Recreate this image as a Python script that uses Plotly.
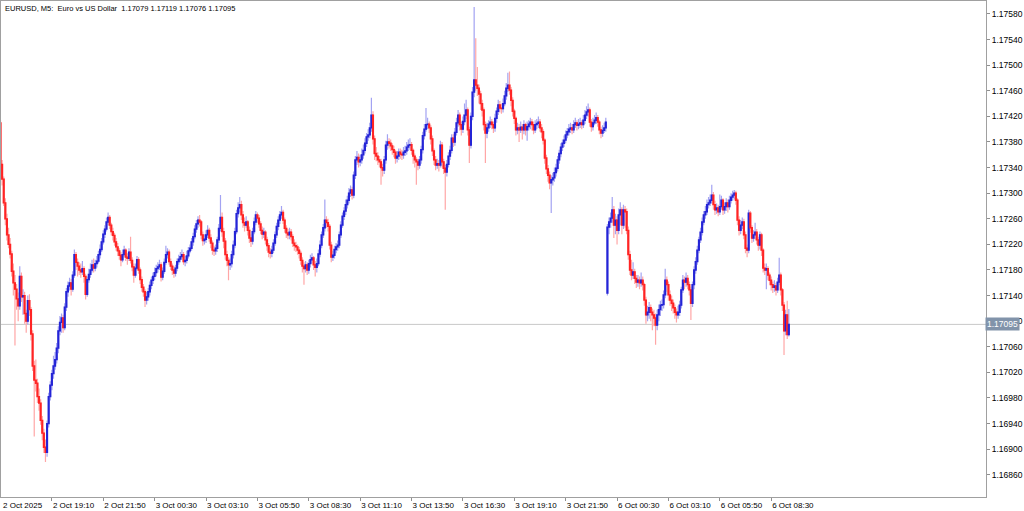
import plotly.graph_objects as go

# Prices are stored as offsets in 0.00001 units from BASE
BASE = 1.17000
UNIT = 0.00001

open_pts = [
    410,345,322,285,260,235,220,205,178,160,
    150,135,124,170,138,140,112,100,132,118,
    80,30,8,3,-18,-28,-55,-75,-97,-105,
    -60,-18,0,18,30,40,58,85,98,105,
    90,122,146,155,160,150,172,204,192,186,
    180,177,182,170,142,165,173,180,188,183,
    190,194,204,212,224,236,244,255,262,250,
    240,234,224,216,210,203,196,204,211,200,
    198,208,195,185,172,183,196,180,165,153,
    146,133,138,146,156,164,170,176,182,185,
    188,169,178,192,204,208,193,186,180,175,
    183,193,197,201,204,193,195,202,210,214,
    224,232,244,252,258,255,235,226,228,235,
    242,230,222,211,210,214,227,245,262,240,
    225,204,195,188,190,204,219,240,268,277,
    282,266,254,250,255,242,230,225,240,255,
    266,261,252,242,236,239,227,218,208,206,
    211,222,235,248,258,266,270,258,245,238,
    235,239,232,222,218,216,211,206,195,186,
    182,188,180,190,196,199,188,184,190,205,
    219,235,246,258,254,248,219,200,203,212,
    216,219,235,250,264,272,282,289,300,305,
    297,328,352,356,349,352,360,367,378,388,
    391,402,422,385,362,358,352,349,340,336,
    352,375,380,378,374,368,364,355,358,364,
    361,360,364,366,372,375,376,367,358,352,
    349,344,352,368,390,400,407,408,402,385,
    366,352,344,346,344,375,349,339,333,345,
    358,367,386,380,395,410,422,407,400,412,
    422,430,399,375,420,458,477,469,464,455,
    440,430,407,394,402,408,411,407,402,417,
    428,438,433,432,440,452,464,469,461,445,
    428,417,399,402,399,403,399,407,399,404,
    408,411,407,399,407,409,411,402,396,383,
    355,338,328,316,321,324,332,339,352,362,
    372,378,383,391,396,400,402,399,407,410,
    406,408,410,407,414,422,427,430,411,404,
    410,414,418,411,399,394,398,402,144,247,
    255,261,274,250,258,242,266,274,250,274,
    271,242,204,180,172,177,167,161,164,160,
    164,157,133,110,114,121,114,110,105,94,
    110,118,125,126,141,164,157,141,133,128,
    121,114,110,114,125,149,164,161,167,157,
    149,128,157,180,193,211,227,239,255,266,
    271,282,285,289,297,282,274,277,271,279,
    289,274,279,285,279,289,294,297,300,289,
    258,242,250,255,235,214,211,269,246,230,
    235,239,227,219,235,211,183,180,182,172,
    164,157,153,155,149,161,172,149,125,85,
    110,79,
]

high_pts = [
    414,352,326,292,268,246,230,210,190,172,
    158,145,186,176,150,146,118,140,142,122,
    86,38,40,10,-5,-22,-48,-68,-85,-55,
    -12,6,24,46,52,66,92,108,112,110,
    128,152,162,168,166,178,212,208,198,192,
    190,194,186,174,170,182,190,196,198,196,
    202,210,220,230,242,250,262,270,266,254,
    246,238,230,222,214,208,212,218,214,206,
    214,232,200,190,190,202,200,184,170,158,
    150,146,152,162,170,176,184,188,192,196,
    192,184,198,218,214,212,198,190,186,188,
    198,204,208,212,208,202,210,216,220,230,
    238,250,258,264,266,258,240,236,242,250,
    246,236,226,218,220,232,252,297,270,246,
    230,210,200,198,210,226,246,274,286,294,
    288,272,262,264,258,248,236,246,262,272,
    270,266,256,248,246,242,232,222,214,218,
    228,240,254,264,272,280,274,262,250,244,
    246,244,236,228,224,220,216,210,200,192,
    194,192,196,204,206,202,194,198,212,226,
    240,252,290,264,260,252,224,210,218,222,
    226,240,256,270,278,290,296,308,312,310,
    334,358,366,362,360,370,376,386,394,400,
    410,449,428,390,372,364,358,354,346,358,
    382,392,386,384,378,374,368,366,370,370,
    368,372,374,380,384,386,380,370,362,356,
    354,358,374,396,408,433,418,412,406,390,
    370,358,354,352,382,380,354,344,352,364,
    374,392,392,402,418,430,426,412,420,440,
    446,434,404,426,466,591,542,497,470,460,
    446,434,412,410,414,420,416,412,424,434,
    446,444,440,448,460,472,488,490,466,450,
    432,420,410,408,412,408,414,410,412,414,
    418,416,412,414,416,420,416,408,400,386,
    360,344,334,328,332,340,346,358,368,378,
    384,390,398,402,408,410,408,414,418,414,
    416,418,414,422,430,436,440,434,416,418,
    422,426,422,414,404,406,410,418,252,262,
    270,294,280,268,264,276,286,278,282,280,
    276,248,210,196,192,182,172,172,170,176,
    170,160,138,124,130,126,120,118,112,118,
    126,132,134,148,182,170,162,148,140,134,
    126,120,124,132,154,172,170,176,172,162,
    154,162,186,200,218,232,246,262,272,280,
    290,294,298,313,302,288,284,282,298,296,
    292,286,292,290,296,300,304,305,304,292,
    264,258,262,260,240,220,274,272,250,242,
    254,244,232,240,238,214,190,190,186,176,
    170,162,164,160,168,199,176,152,130,118,
    132,119,
]

low_pts = [
    340,312,280,250,226,214,198,170,140,62,
    118,100,118,130,110,96,82,95,108,70,
    22,-80,-10,-28,-40,-62,-86,-106,-120,-112,
    -66,-24,-8,10,24,34,50,78,82,82,
    86,116,138,148,140,146,168,180,170,172,
    168,172,160,134,138,160,168,176,176,178,
    184,190,198,208,220,230,240,250,244,234,
    226,218,210,202,196,186,192,200,194,188,
    194,190,178,160,168,180,174,158,146,138,
    122,126,132,140,150,158,164,170,176,180,
    162,164,174,188,198,188,180,172,168,170,
    178,188,192,196,188,186,190,198,206,210,
    218,228,238,246,248,228,218,220,222,230,
    224,214,204,202,204,208,222,240,232,214,
    196,186,164,180,184,198,214,236,262,270,
    258,246,240,246,234,222,216,220,236,250,
    254,246,236,228,230,220,210,200,198,200,
    206,218,230,242,252,260,252,238,230,228,
    228,226,216,210,208,204,198,188,176,157,
    176,172,174,184,190,180,170,176,186,200,
    214,230,240,246,240,212,192,194,198,206,
    210,214,230,246,258,266,276,284,294,290,
    292,322,344,340,342,346,354,362,372,382,
    386,396,376,352,350,344,340,313,326,330,
    346,368,370,366,360,356,346,348,352,354,
    352,354,358,360,366,368,360,346,340,313,
    336,338,346,362,384,396,400,394,376,358,
    344,336,338,334,340,340,330,274,326,340,
    352,362,372,374,390,404,398,390,394,406,
    416,390,347,370,414,450,460,452,440,430,
    420,398,347,386,396,402,400,394,396,410,
    422,426,424,426,436,446,458,454,436,420,
    408,390,392,380,394,384,392,390,382,398,
    400,398,392,394,400,402,396,386,376,346,
    330,318,306,269,312,318,326,334,346,356,
    366,372,378,386,390,394,392,394,402,398,
    400,402,400,402,408,416,420,404,396,398,
    406,408,404,392,386,388,394,396,140,236,
    246,254,230,236,220,236,250,236,244,246,
    236,196,172,164,166,158,152,154,150,154,
    148,124,96,100,104,100,86,92,63,86,
    100,108,116,120,136,146,132,124,116,112,
    104,98,104,108,120,144,150,154,150,140,
    102,122,150,174,188,206,222,234,250,260,
    266,276,280,284,274,266,268,264,266,274,
    266,268,272,270,274,284,288,290,282,250,
    234,236,244,228,206,200,206,238,222,224,
    228,220,210,212,202,176,172,150,164,156,
    148,144,146,140,144,156,140,116,47,78,
    72,76,
]

close_pts = [
    345,322,285,260,235,220,205,178,160,150,
    135,124,170,138,140,112,100,132,118,80,
    30,8,3,-18,-28,-55,-75,-97,-105,-60,
    -18,0,18,30,40,58,85,98,105,90,
    122,146,155,160,150,172,204,192,186,180,
    177,182,170,142,165,173,180,188,183,190,
    194,204,212,224,236,244,255,262,250,240,
    234,224,216,210,203,196,204,211,200,198,
    208,195,185,172,183,196,180,165,153,146,
    133,138,146,156,164,170,176,182,185,188,
    169,178,192,204,208,193,186,180,175,183,
    193,197,201,204,193,195,202,210,214,224,
    232,244,252,258,255,235,226,228,235,242,
    230,222,211,210,214,227,245,262,240,225,
    204,195,188,190,204,219,240,268,277,282,
    266,254,250,255,242,230,225,240,255,266,
    261,252,242,236,239,227,218,208,206,211,
    222,235,248,258,266,270,258,245,238,235,
    239,232,222,218,216,211,206,195,186,182,
    188,180,190,196,199,188,184,190,205,219,
    235,246,258,254,248,219,200,203,212,216,
    219,235,250,264,272,282,289,300,305,297,
    328,352,356,349,352,360,367,378,388,391,
    402,422,385,362,358,352,349,340,336,352,
    375,380,378,374,368,364,355,358,364,361,
    360,364,366,372,375,376,367,358,352,349,
    344,352,368,390,400,407,408,402,385,366,
    352,344,346,344,375,349,339,333,345,358,
    367,386,380,395,410,422,407,400,412,422,
    430,399,375,420,458,477,469,464,455,440,
    430,407,394,402,408,411,407,402,417,428,
    438,433,432,440,452,464,469,461,445,428,
    417,399,402,399,403,399,407,399,404,408,
    411,407,399,407,409,411,402,396,383,355,
    338,328,316,321,324,332,339,352,362,372,
    378,383,391,396,400,402,399,407,410,406,
    408,410,407,414,422,427,430,411,404,410,
    414,418,411,399,394,398,402,411,247,255,
    261,274,250,258,242,266,274,250,274,271,
    242,204,180,172,177,167,161,164,160,164,
    157,133,110,114,121,114,110,105,94,110,
    118,125,126,141,164,157,141,133,128,121,
    114,110,114,125,149,164,161,167,157,149,
    128,157,180,193,211,227,239,255,266,271,
    282,285,289,297,282,274,277,271,279,289,
    274,279,285,279,289,294,297,300,289,258,
    242,250,255,235,214,211,269,246,230,235,
    239,227,219,235,211,183,180,182,172,164,
    157,153,155,149,161,172,149,125,85,110,
    79,95,
]

first_label = "2 Oct 2025"
tick_labels = ["2 Oct 19:10", "2 Oct 21:50", "3 Oct 00:30", "3 Oct 03:10",
               "3 Oct 05:50", "3 Oct 08:30", "3 Oct 11:10", "3 Oct 13:50",
               "3 Oct 16:30", "3 Oct 19:10", "3 Oct 21:50", "6 Oct 00:30",
               "6 Oct 03:10", "6 Oct 05:50", "6 Oct 08:30"]
bars_per_label = 32
header = "EURUSD, M5:\u00a0\u00a0Euro vs US Dollar\u00a0\u00a01.17079 1.17119 1.17076 1.17095"
last_price = 1.17095

n = len(close_pts)
assert len(open_pts) == n and len(high_pts) == n and len(low_pts) == n, (len(open_pts), len(high_pts), len(low_pts), n)

x = list(range(n))
o = [BASE + v * UNIT for v in open_pts]
h = [BASE + v * UNIT for v in high_pts]
l = [BASE + v * UNIT for v in low_pts]
c = [BASE + v * UNIT for v in close_pts]
body_top = [max(a, b) for a, b in zip(o, c)]
body_bot = [min(a, b) for a, b in zip(o, c)]

UP_WICK = "#a3a3f2"
DN_WICK = "#ffa6a6"
UP_BODY = "#2424d6"
DN_BODY = "#ff2424"
FONT = "Liberation Sans, Arial, sans-serif"

fig = go.Figure()
fig.add_trace(go.Candlestick(
    x=x, open=o, high=h, low=l, close=c,
    increasing=dict(line=dict(color=UP_WICK, width=1.2), fillcolor=UP_WICK),
    decreasing=dict(line=dict(color=DN_WICK, width=1.2), fillcolor=DN_WICK),
    whiskerwidth=0, hoverinfo="skip", showlegend=False,
))
fig.add_trace(go.Candlestick(
    x=x, open=o, high=body_top, low=body_bot, close=c,
    increasing=dict(line=dict(color=UP_BODY, width=1.3), fillcolor=UP_BODY),
    decreasing=dict(line=dict(color=DN_BODY, width=1.3), fillcolor=DN_BODY),
    whiskerwidth=0, hoverinfo="skip", showlegend=False,
))

tickvals = [bars_per_label * (k + 1) for k in range(len(tick_labels))]

fig.add_shape(type="line", xref="paper", x0=0, x1=1, yref="y",
              y0=last_price, y1=last_price,
              line=dict(color="#c8c8c8", width=1), layer="below")

fig.add_annotation(xref="paper", x=0, yref="paper", y=1, xanchor="left", yanchor="top",
                   xshift=2, yshift=-1, text=header, showarrow=False,
                   font=dict(family=FONT, size=7.5, color="#000000"))
fig.add_annotation(xref="paper", x=0, yref="paper", y=0, xanchor="left", yanchor="top",
                   xshift=0, yshift=-2, text=first_label, showarrow=False,
                   font=dict(family=FONT, size=8, color="#000000"))
fig.add_annotation(xref="paper", x=1, yref="y", y=last_price, xanchor="left", yanchor="middle",
                   xshift=-1, text="%.5f" % last_price, showarrow=False,
                   bgcolor="#8193aa", borderpad=1,
                   font=dict(family=FONT, size=8.5, color="#ffffff"))

fig.update_layout(
    width=1024, height=511,
    margin=dict(l=1, r=38, t=1, b=14),
    paper_bgcolor="#ffffff", plot_bgcolor="#ffffff",
    hovermode=False, showlegend=False,
    font=dict(family=FONT, size=9, color="#000000"),
    xaxis=dict(range=[0.3, 613.8], rangeslider=dict(visible=False),
               tickmode="array", tickvals=tickvals, ticktext=tick_labels,
               ticks="outside", ticklen=3, tickcolor="#909090",
               ticklabelposition="outside right", tickangle=0,
               tickfont=dict(family=FONT, size=8),
               showgrid=False, zeroline=False, automargin=False,
               showline=True, linecolor="#a0a0a0", mirror=True),
    yaxis=dict(side="right", range=[1.168253, 1.176003],
               tick0=1.16860, dtick=0.0004, tickformat=".5f",
               ticks="outside", ticklen=3, tickcolor="#909090",
               tickfont=dict(family=FONT, size=8.5),
               showgrid=False, zeroline=False, automargin=False,
               showline=True, linecolor="#a0a0a0", mirror=True),
)

fig.write_html("out.html", config={"displayModeBar": False, "staticPlot": True},
               post_script="document.body.style.margin='0';document.body.style.padding='0';")
